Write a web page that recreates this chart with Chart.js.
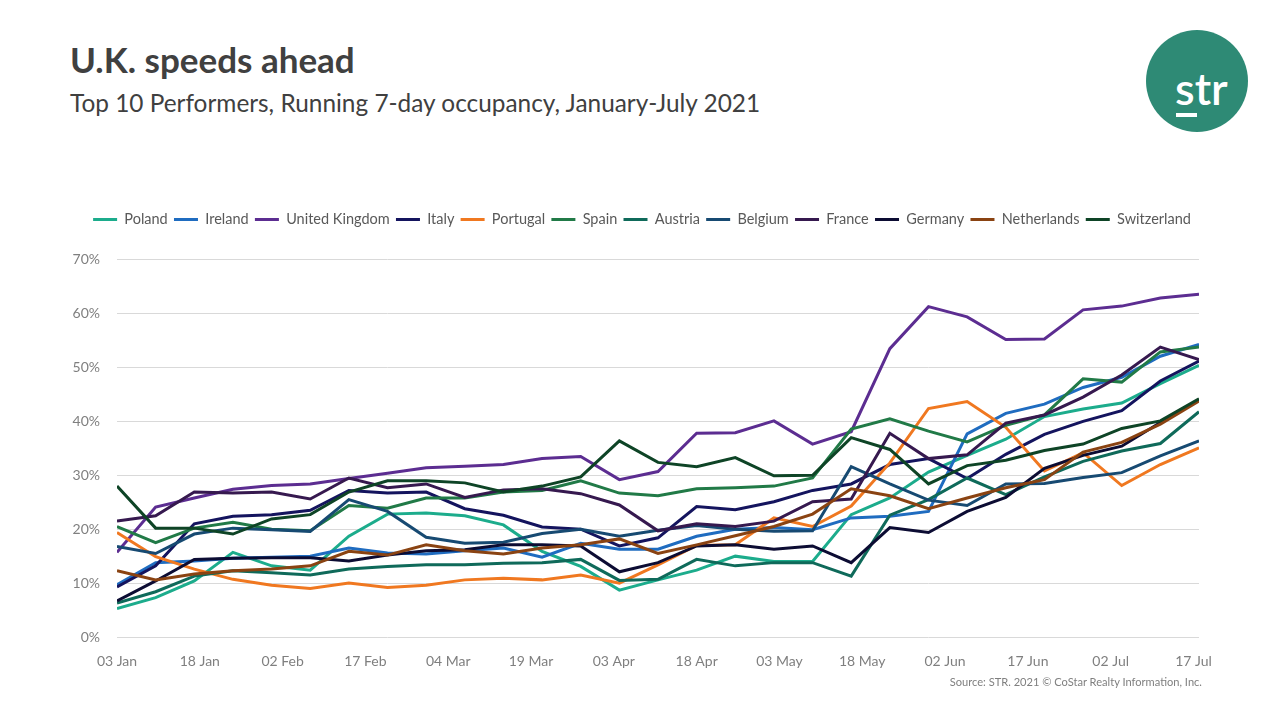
<!DOCTYPE html>
<html>
<head>
<meta charset="utf-8">
<script src="https://cdn.jsdelivr.net/npm/chart.js@4.4.1/dist/chart.umd.min.js"></script>
<style>
  body { margin: 0; width: 1280px; height: 720px; background: #fff; position: relative; overflow: hidden; font-family: Lato, sans-serif; }
  #title { position: absolute; left: 70px; top: 38px; font-size: 35px; font-weight: bold; color: #404040; }
  #subtitle { position: absolute; left: 70px; top: 88px; font-size: 24.4px; color: #404040; }
  #logo { position: absolute; left: 1146px; top: 30px; width: 102px; height: 102px; border-radius: 50%; background: #2e8a75; }
  #logo span { position: absolute; left: 29px; top: 35px; font-size: 45px; line-height: 46px; font-weight: 600; color: #fff; }
  #logo i { position: absolute; left: 30px; top: 83px; width: 21px; height: 4px; background: #fff; }
  #source { position: absolute; right: 78px; top: 675px; font-size: 11.1px; color: #7f7f7f; }
  #wrap { position: absolute; left: 0; top: 0; width: 1280px; height: 720px; }
</style>
</head>
<body>
<div id="title">U.K. speeds ahead</div>
<div id="subtitle">Top 10 Performers, Running 7-day occupancy, January-July 2021</div>
<div id="logo"><span>str</span><i></i></div>
<div id="wrap"><canvas id="chart" width="1280" height="720"></canvas></div>
<div id="source">Source: STR. 2021 © CoStar Realty Information, Inc.</div>
<script>
// days after 03 Jan, one point per week
const weeks = [0, 7, 14, 21, 28, 35, 42, 49, 56, 63, 70, 77, 84, 91, 98, 105, 112, 119, 126, 133, 140, 147, 154, 161, 168, 175, 182, 189, 196];
const tickDays = [0, 15, 30, 45, 60, 75, 90, 105, 120, 135, 150, 165, 180, 195];
const tickLabels = ['03 Jan', '18 Jan', '02 Feb', '17 Feb', '04 Mar', '19 Mar', '03 Apr', '18 Apr', '03 May', '18 May', '02 Jun', '17 Jun', '02 Jul', '17 Jul'];

const countries = ['Poland', 'Ireland', 'United Kingdom', 'Italy', 'Portugal', 'Spain', 'Austria', 'Belgium', 'France', 'Germany', 'Netherlands', 'Switzerland'];
const colors = ['#1cac8c', '#1f6cc0', '#5c2d91', '#14145e', '#f07820', '#217a47', '#0f6a5a', '#174a72', '#36194f', '#0c0c33', '#8a4312', '#0e4426'];

const poland      = [5.3, 7.3, 10.4, 15.7, 13.2, 12.4, 18.7, 22.8, 23.0, 22.5, 20.8, 15.9, 13.1, 8.7, 10.6, 12.4, 15.0, 14.0, 14.0, 22.7, 25.8, 30.6, 33.7, 36.7, 40.9, 42.3, 43.4, 47.0, 50.4];
const ireland     = [9.7, 13.8, 14.1, 14.6, 14.8, 15.0, 16.5, 15.6, 15.4, 16.0, 16.5, 14.8, 17.4, 16.3, 16.3, 18.7, 20.0, 20.3, 19.9, 22.1, 22.4, 23.3, 37.7, 41.5, 43.2, 46.3, 48.2, 52.1, 54.3];
const uk          = [15.7, 24.1, 25.8, 27.4, 28.1, 28.4, 29.4, 30.4, 31.4, 31.7, 32.0, 33.1, 33.5, 29.2, 30.7, 37.8, 37.9, 40.1, 35.8, 38.1, 53.5, 61.3, 59.4, 55.2, 55.3, 60.7, 61.4, 62.9, 63.6];
const italy       = [9.3, 13.2, 21.0, 22.4, 22.7, 23.5, 27.2, 26.7, 26.9, 23.8, 22.6, 20.4, 20.0, 16.9, 18.4, 24.2, 23.6, 25.1, 27.2, 28.4, 32.0, 33.1, 29.4, 33.9, 37.6, 40.0, 42.0, 47.5, 51.2];
const portugal    = [19.4, 14.9, 12.6, 10.7, 9.6, 9.0, 10.0, 9.2, 9.6, 10.6, 10.9, 10.6, 11.5, 10.0, 13.4, 17.0, 17.1, 22.1, 20.5, 24.3, 32.3, 42.4, 43.7, 38.9, 30.8, 34.2, 28.1, 32.0, 35.1];
const spain       = [20.5, 17.5, 20.2, 21.3, 20.0, 19.7, 24.4, 23.9, 25.8, 25.8, 26.9, 27.2, 29.0, 26.7, 26.2, 27.5, 27.7, 28.0, 29.5, 38.6, 40.5, 38.2, 36.2, 39.3, 41.2, 47.9, 47.3, 52.9, 53.8];
const austria     = [6.3, 8.4, 11.3, 12.3, 11.9, 11.5, 12.6, 13.1, 13.4, 13.4, 13.7, 13.8, 14.4, 10.5, 10.7, 14.4, 13.2, 13.8, 13.8, 11.3, 22.6, 25.5, 29.5, 26.4, 29.7, 32.6, 34.5, 35.9, 41.8];
const belgium     = [16.8, 15.5, 19.1, 20.2, 19.9, 19.6, 25.5, 23.3, 18.5, 17.4, 17.6, 19.2, 20.0, 18.7, 19.8, 20.7, 20.0, 19.6, 19.7, 31.6, 28.4, 25.4, 24.4, 28.4, 28.5, 29.6, 30.5, 33.6, 36.4];
const france      = [21.5, 22.5, 26.9, 26.7, 26.9, 25.6, 29.5, 27.7, 28.4, 25.9, 27.3, 27.5, 26.6, 24.5, 19.7, 21.0, 20.5, 21.5, 25.1, 25.6, 37.8, 33.1, 33.8, 39.7, 41.2, 44.5, 48.6, 53.8, 51.5];
const germany     = [6.7, 10.4, 14.4, 14.6, 14.7, 14.7, 14.1, 15.2, 16.0, 16.2, 17.1, 17.1, 16.9, 12.1, 13.8, 16.9, 17.1, 16.3, 16.9, 13.8, 20.3, 19.4, 23.3, 25.9, 31.3, 33.7, 35.4, 39.8, 44.0];
const netherlands = [12.3, 10.6, 11.7, 12.3, 12.6, 13.2, 15.9, 15.2, 17.1, 16.0, 15.4, 16.5, 17.1, 18.2, 15.5, 17.1, 18.8, 20.5, 22.8, 27.5, 26.2, 23.8, 25.8, 27.7, 29.2, 34.3, 36.1, 39.5, 43.8];
const switzerland = [28.0, 20.2, 20.2, 19.1, 21.9, 22.7, 26.9, 29.0, 29.0, 28.6, 26.9, 28.0, 29.7, 36.4, 32.4, 31.6, 33.3, 29.9, 30.0, 37.0, 34.8, 28.4, 31.8, 32.8, 34.6, 35.8, 38.7, 40.1, 44.2];

const series = [poland, ireland, uk, italy, portugal, spain, austria, belgium, france, germany, netherlands, switzerland];

const datasets = series.map((vals, i) => ({
  label: countries[i],
  data: vals.map((v, j) => ({ x: weeks[j], y: v })),
  borderColor: colors[i],
  backgroundColor: colors[i],
  borderWidth: 3,
  pointRadius: 0,
  tension: 0,
  order: -i
}));

// legend a bit taller so the plot starts lower, and nudged right
const legendGap = {
  id: 'legendGap',
  beforeInit(chart) {
    const fit = chart.legend.fit;
    chart.legend.fit = function () {
      fit.bind(chart.legend)();
      this.height += 23;
    };
    const draw = chart.legend.draw;
    chart.legend.draw = function () {
      chart.ctx.save();
      chart.ctx.translate(14, 0);
      draw.bind(chart.legend)();
      chart.ctx.restore();
    };
  }
};

const ctx = document.getElementById('chart');
new Chart(ctx, {
  type: 'line',
  data: { datasets: datasets },
  options: {
    responsive: false,
    animation: false,
    layout: { padding: { left: 57, right: 81, top: 206, bottom: 43 } },
    plugins: {
      tooltip: { enabled: false },
      legend: {
        position: 'top',
        labels: {
          boxWidth: 24,
          boxHeight: 3,
          padding: 6.25,
          color: '#595959',
          font: { family: 'Lato', size: 14.5 },
          generateLabels(chart) {
            const items = Chart.defaults.plugins.legend.labels.generateLabels(chart);
            items.sort((a, b) => a.datasetIndex - b.datasetIndex);
            items.forEach(it => { it.lineWidth = 0; });
            return items;
          }
        }
      }
    },
    scales: {
      x: {
        type: 'linear',
        min: 0,
        max: 196,
        afterBuildTicks(axis) { axis.ticks = tickDays.map(d => ({ value: d })); },
        afterFit(axis) { axis.height = 40; },
        grid: { display: false },
        border: { display: false },
        ticks: {
          padding: 8,
          color: '#7f7f7f',
          font: { family: 'Lato', size: 14 },
          maxRotation: 0,
          autoSkip: false,
          callback: (v) => tickLabels[tickDays.indexOf(v)]
        }
      },
      y: {
        min: 0,
        max: 70,
        afterFit(axis) { axis.width = 60; },
        grid: { color: '#d9d9d9', drawTicks: false },
        border: { display: false },
        ticks: {
          stepSize: 10,
          padding: 17,
          color: '#7f7f7f',
          font: { family: 'Lato', size: 14 },
          callback: (v) => v + '%'
        }
      }
    }
  },
  plugins: [legendGap]
});
</script>
</body>
</html>
